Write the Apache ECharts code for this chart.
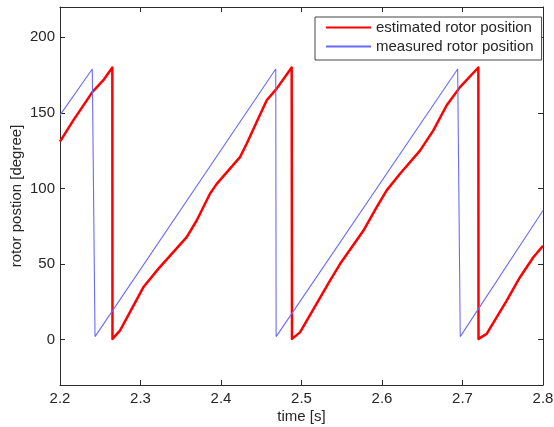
<!DOCTYPE html>
<html>
<head>
<meta charset="utf-8">
<script src="https://cdn.jsdelivr.net/npm/echarts@6/dist/echarts.min.js"></script>
<style>html,body{margin:0;padding:0;background:#fff}#c{width:554px;height:427px}</style>
</head>
<body>
<div id="c"></div>
<script>
var seriesNames = ['estimated rotor position', 'measured rotor position'];
var xTicks = [2.2, 2.3, 2.4, 2.5, 2.6, 2.7, 2.8];
var yTicks = [0, 50, 100, 150, 200];

var estTime = [2.2, 2.2165, 2.2406, 2.2545, 2.265, 2.2652, 2.2745, 2.3035, 2.3221, 2.3574, 2.3698, 2.3863, 2.3947, 2.4236, 2.4319, 2.4443, 2.4568, 2.4692, 2.4878,
  2.4882, 2.4981, 2.5354, 2.5478, 2.5768, 2.5934, 2.6058, 2.6224, 2.6472, 2.6638, 2.6804, 2.6969, 2.7197,
  2.7199, 2.730, 2.7549, 2.7714, 2.788, 2.8];
var estValue = [131, 145, 164, 172, 180, 0.5, 6, 34.6, 46.8, 67.8, 78.8, 96.5, 103, 120.7, 129.6, 143.9, 158.3, 166, 180,
  0.5, 4.8, 39, 50, 72, 87.6, 98.7, 109.7, 125, 138.4, 155, 167, 180,
  0.5, 3.8, 25.8, 41.3, 54.5, 62];

var measTime = [2.2, 2.2401, 2.2435, 2.468, 2.4685, 2.694, 2.6972, 2.8];
var measValue = [148.5, 179, 2, 179, 2, 179, 2, 85.4];

function pairs(t, v) { return t.map(function (x, i) { return [x, v[i]]; }); }

var chart = echarts.init(document.getElementById('c'), null, {renderer: 'canvas'});
var axisColor = '#2b2b2b';
var font = 'Liberation Sans, Arial, sans-serif';
chart.setOption({
  animation: false,
  backgroundColor: '#fff',
  grid: {left: 60, right: 11, top: 7, bottom: 42, containLabel: false, outerBoundsMode: 'none'},
  legend: {
    orient: 'vertical', left: 315, top: 17,
    padding: [3, 8, 6, 10], itemGap: 4, itemWidth: 45, itemHeight: 15,
    backgroundColor: '#fff', borderColor: '#444', borderWidth: 1, borderRadius: 0,
    itemStyle: {opacity: 0},
    textStyle: {fontFamily: font, fontSize: 15, color: '#262626'},
    data: seriesNames
  },
  xAxis: [{
    type: 'value', min: 2.2, max: 2.8, interval: 0.1, position: 'bottom',
    name: 'time [s]', nameLocation: 'middle', nameGap: 24, nameMoveOverlap: false,
    nameTextStyle: {fontFamily: font, fontSize: 15, color: '#262626'},
    axisLine: {show: true, onZero: false, lineStyle: {color: axisColor, width: 1}},
    axisTick: {show: true, inside: true, length: 5, customValues: xTicks, lineStyle: {color: axisColor}},
    axisLabel: {show: true, margin: 6, fontFamily: font, fontSize: 15, color: '#262626', customValues: xTicks,
      formatter: function (v) { return v.toFixed(1); }},
    splitLine: {show: false}
  }, {
    type: 'value', min: 2.2, max: 2.8, interval: 0.1, position: 'top',
    axisLine: {show: true, onZero: false, lineStyle: {color: axisColor, width: 1}},
    axisTick: {show: true, inside: true, length: 5, customValues: xTicks, lineStyle: {color: axisColor}},
    axisLabel: {show: false}, splitLine: {show: false}
  }],
  yAxis: [{
    type: 'value', min: -30, max: 220, position: 'left',
    name: 'rotor postion [degree]', nameLocation: 'middle', nameGap: 36, nameMoveOverlap: false,
    nameTextStyle: {fontFamily: font, fontSize: 15, color: '#262626'},
    axisLine: {show: true, onZero: false, lineStyle: {color: axisColor, width: 1}},
    axisTick: {show: true, inside: true, length: 5, customValues: yTicks, lineStyle: {color: axisColor}},
    axisLabel: {show: true, margin: 5, fontFamily: font, fontSize: 15, color: '#262626', customValues: yTicks},
    splitLine: {show: false}
  }, {
    type: 'value', min: -30, max: 220, position: 'right',
    axisLine: {show: true, onZero: false, lineStyle: {color: axisColor, width: 1}},
    axisTick: {show: true, inside: true, length: 5, customValues: yTicks, lineStyle: {color: axisColor}},
    axisLabel: {show: false}, splitLine: {show: false}
  }],
  series: [{
    name: seriesNames[0], type: 'line', data: pairs(estTime, estValue),
    showSymbol: false, symbol: 'none', smooth: false,
    color: '#ff0000', lineStyle: {color: '#ff0000', width: 2.5, join: 'round'}
  }, {
    name: seriesNames[1], type: 'line', data: pairs(measTime, measValue),
    showSymbol: false, symbol: 'none', smooth: false,
    color: '#6a6aff', lineStyle: {color: '#6a6aff', width: 1.1}
  }]
});
</script>
</body>
</html>
